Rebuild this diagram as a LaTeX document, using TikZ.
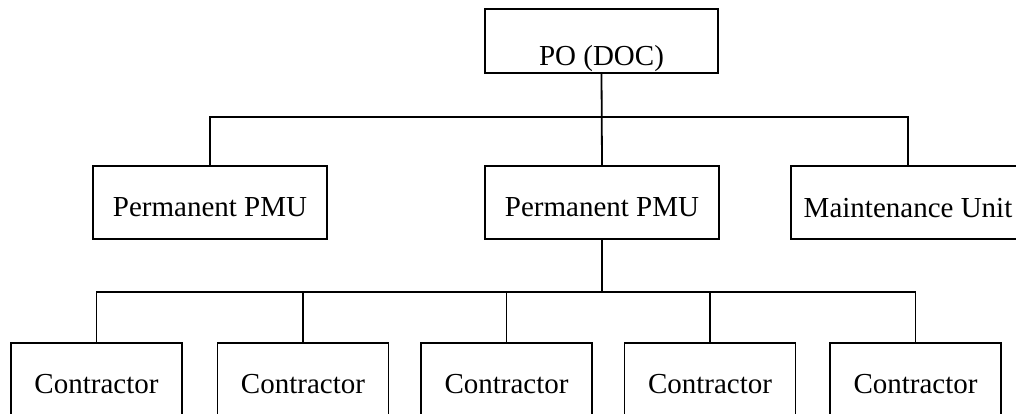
\documentclass[tikz,border=0pt]{standalone}
\usepackage{fontspec}
\setmainfont{Liberation Serif}
\begin{document}
\begin{tikzpicture}[x=1pt,y=-1pt,
  every node/.style={font=\fontsize{29}{34}\selectfont},
  unitbox/.style={draw, line width=1.8pt, rectangle, inner sep=0pt,
    minimum width=234pt, minimum height=73pt, text height=27pt, text depth=0pt},
  topbox/.style={unitbox, minimum width=233pt, minimum height=64pt, text height=50pt},
  workbox/.style={unitbox, minimum width=171pt},
  link/.style={line width=1.8pt}]
  \useasboundingbox (0,0) rectangle (1016,414);
  \clip (0,0) rectangle (1016,414);

  % boxes
  \node[topbox] (po) at (601.5,41) {PO (DOC)};
  \node[unitbox] (pm1) at (210,202.5) {Permanent PMU};
  \node[unitbox] (pm2) at (602,202.5) {Permanent PMU};
  \node[unitbox, text height=29pt] (mu) at (908,202.5) {Maintenance Unit};
  \node[workbox] (c1) at (96.5,379.5) {Contractor};
  \node[workbox] (c2) at (303,379.5) {Contractor};
  \node[workbox] (c3) at (506.5,379.5) {Contractor};
  \node[workbox] (c4) at (710,379.5) {Contractor};
  \node[workbox] (c5) at (915.5,379.5) {Contractor};

  % bus coordinates
  \coordinate (topbus) at (602,117);
  \coordinate (lowbus) at (602,292);

  % upper level
  \draw[link] (po.south) -- (pm2.north);
  \draw[link] (pm1.north) |- (topbus) -| (mu.north);

  % lower level
  \draw[link] (pm2.south) -- (lowbus);
  \draw[link] (c1.north) |- (lowbus) -| (c5.north);
  \draw[link] (c2.north) -- (c2.north |- lowbus);
  \draw[link] (c3.north) -- (c3.north |- lowbus);
  \draw[link] (c4.north) -- (c4.north |- lowbus);
\end{tikzpicture}
\end{document}
